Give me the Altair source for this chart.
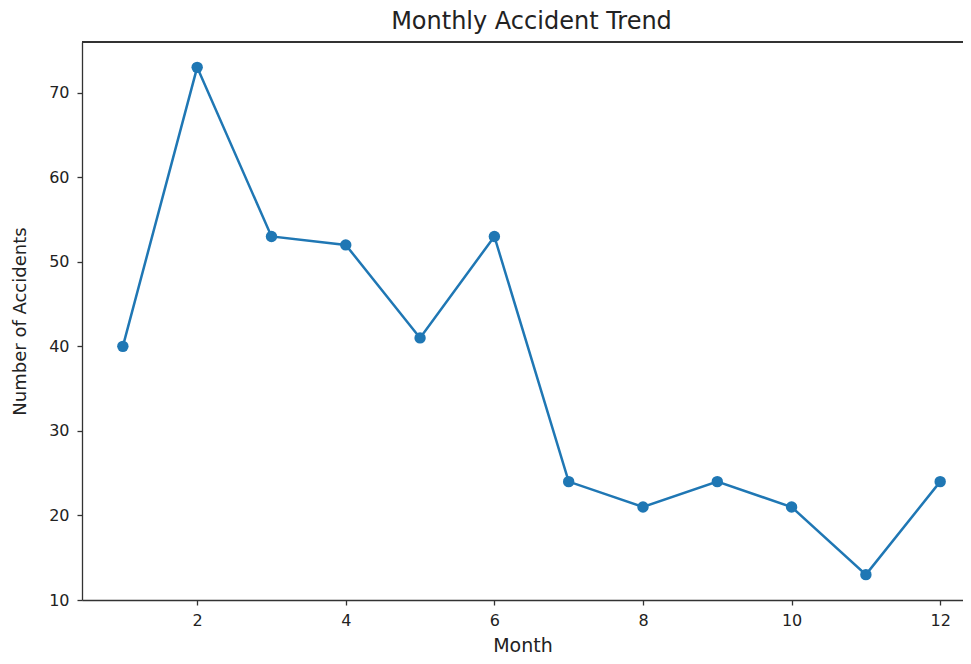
import altair as alt
import pandas as pd

months = [1, 2, 3, 4, 5, 6, 7, 8, 9, 10, 11, 12]
accidents = [40, 73, 53, 52, 41, 53, 24, 21, 24, 21, 13, 24]
x_ticks = [2, 4, 6, 8, 10, 12]
y_ticks = [10, 20, 30, 40, 50, 60, 70]

df = pd.DataFrame({"Month": months, "Accidents": accidents})

font = "DejaVu Sans"
blue = "#1f77b4"
y_top = 76

x_enc = alt.X("Month:Q",
              scale=alt.Scale(domain=[0.45, 12.307], nice=False, zero=False),
              axis=alt.Axis(values=x_ticks, title="Month", grid=False,
                            tickSize=5, labelPadding=7, titlePadding=8,
                            labelFontSize=16, titleFontSize=19))
y_enc = alt.Y("Accidents:Q",
              scale=alt.Scale(domain=[10, y_top], nice=False, zero=False),
              axis=alt.Axis(values=y_ticks, title="Number of Accidents", grid=False,
                            tickSize=5, labelPadding=8, titlePadding=19,
                            labelFontSize=16, titleFontSize=18))

base = alt.Chart(df).encode(x=x_enc, y=y_enc)
line = base.mark_line(color=blue, strokeWidth=2.5)
pts = base.mark_circle(color=blue, size=130, opacity=1)
top_spine = alt.Chart(df).mark_rule(color="#333333", strokeWidth=1.3).encode(
    y=alt.datum(y_top))

chart = (top_spine + line + pts).properties(
    width=881, height=558,
    title=alt.TitleParams("Monthly Accident Trend", fontSize=24, font=font,
                          fontWeight="normal", color="#222222", offset=7, dx=9),
    autosize=alt.AutoSizeParams(type="none"),
    padding={"left": 74, "top": 34, "right": 0, "bottom": 56},
).configure_view(stroke=None).configure_axis(
    labelFont=font, titleFont=font, labelColor="#222222", titleColor="#222222",
    titleFontWeight="normal", domainColor="#333333", tickColor="#333333",
    domainWidth=1.3, tickWidth=1.3
)

chart.save("out.html", embed_options={"renderer": "svg", "actions": False})
